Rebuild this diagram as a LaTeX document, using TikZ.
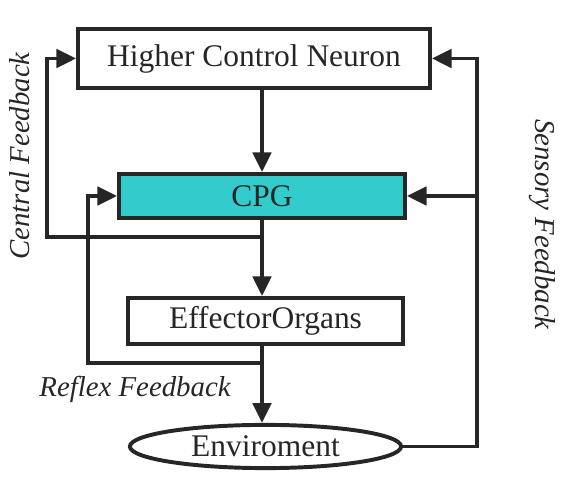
\documentclass[tikz,border=0pt]{standalone}
\usepackage{fontspec}
\setmainfont{Liberation Serif}
\usetikzlibrary{arrows.meta,shapes.geometric}
\definecolor{linegray}{RGB}{38,38,38}
\definecolor{cpgcyan}{RGB}{51,204,204}

\begin{document}
\begin{tikzpicture}[
  block/.style={draw=linegray, line width=2.8pt, inner sep=0pt, text=linegray, font=\fontsize{22.4}{26}\selectfont},
  flow/.style={draw=linegray, line width=2.8pt, -{Triangle[length=14pt,width=13pt]}},
  fb/.style={text=linegray, font=\fontsize{20.5}{24}\selectfont\itshape}
]
\useasboundingbox (0,0) rectangle (14.225,12.15);
% Blocks
\node[block, minimum width=8.8cm, minimum height=1.475cm] (hcn) at (6.35,10.6875) {Higher Control Neuron};
\node[block, fill=cpgcyan, minimum width=7.15cm, minimum height=1.1cm] (cpg) at (6.55,7.25) {CPG};
\node[block, minimum width=6.875cm, minimum height=1.15cm] (eff) at (6.6375,4.125) {EffectorOrgans};
\node[block, ellipse, minimum width=6.78cm, minimum height=1.08cm] (env) at (6.6375,0.9875) {Enviroment};
% Main path
\draw[flow] (hcn.south -| cpg.north) -- (cpg.north);
\draw[flow] (cpg.south) -- (cpg.south |- eff.north);
\draw[flow] (cpg.south |- eff.south) -- (cpg.south |- env.north);
% Central feedback
\coordinate (cfstart) at (6.55,6.225);
\coordinate (cfcorner) at (1.175,6.225);
\draw[flow] (cfstart) -- (cfcorner) |- (hcn.west);
\node[fb, rotate=90] (cfb) at (0.5,8.25) {Central Feedback};
% Reflex feedback
\coordinate (rfstart) at (6.55,3.075);
\coordinate (rfcorner) at (2.2,3.075);
\draw[flow] (rfstart) -- (rfcorner) |- (cpg.west);
\node[fb] (rfb) at (3.375,2.425) {Reflex Feedback};
% Sensory feedback
\coordinate (sfcorner) at (11.925,0.9875);
\draw[flow] (env.east) -- (sfcorner) |- (hcn.east);
\draw[flow] (sfcorner |- cpg.east) -- (cpg.east);
\node[fb, rotate=-90] (sfb) at (13.55,6.5375) {Sensory Feedback};
\end{tikzpicture}
\end{document}
